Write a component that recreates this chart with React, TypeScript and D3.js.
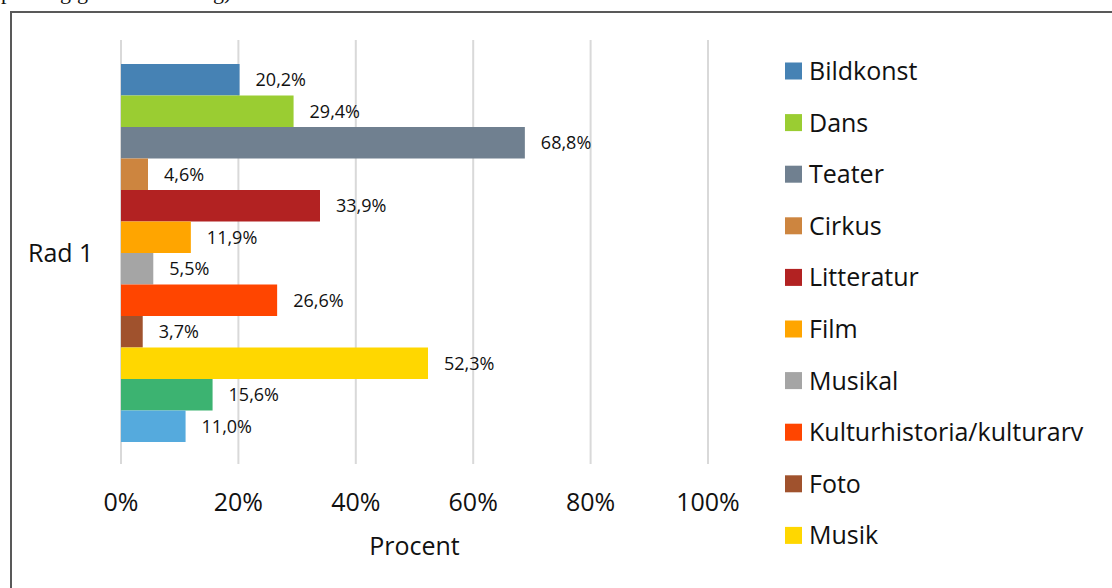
import React from "react";
import * as d3 from "d3";

const categories = ["Rad 1"];
const seriesNames = [
  "Bildkonst",
  "Dans",
  "Teater",
  "Cirkus",
  "Litteratur",
  "Film",
  "Musikal",
  "Kulturhistoria/kulturarv",
  "Foto",
  "Musik",
  "Slöjd",
  "Design",
];
const seriesValues = [20.2, 29.4, 68.8, 4.6, 33.9, 11.9, 5.5, 26.6, 3.7, 52.3, 15.6, 11.0];
const seriesColors = [
  "#4682B4",
  "#9ACD32",
  "#708090",
  "#CD853F",
  "#B22222",
  "#FFA500",
  "#A5A5A5",
  "#FF4500",
  "#A0522D",
  "#FFD700",
  "#3CB371",
  "#55AADD",
];
const xTicks = [0, 20, 40, 60, 80, 100];
const xAxisTitle = "Procent";

const FONT = "'Open Sans', 'Noto Sans', sans-serif";

export default function App() {
  const W = 1112;
  const H = 588;
  const x = d3.scaleLinear().domain([0, 100]).range([121, 708]);
  const y = d3.scaleBand<string>().domain(seriesNames).range([64, 442]).padding(0);
  const gridTop = 40;
  const gridBottom = 464;
  const fmt = (v: number) => d3.format(".1f")(v).replace(".", ",") + "%";

  const legendTop = 71;
  const legendStep = 51.6;
  const legendLimit = 560;
  const legendItems = seriesNames
    .map((n, i) => ({ n, i, cy: legendTop + i * legendStep }))
    .filter((d) => d.cy + 9 < legendLimit);

  return (
    <svg
      width={W}
      height={H}
      style={{ position: "absolute", left: 0, top: 0, background: "#fff" }}
    >
      {/* cropped document text above the chart */}
      <g fontFamily="'Liberation Serif', 'DejaVu Serif', serif" fontSize={22} fill="#111">
        <text x={1} y={-1}>p</text>
        <text x={60} y={-1}>g</text>
        <text x={77} y={-1}>g</text>
        <text x={213} y={-1}>g)</text>
      </g>
      {/* chart frame */}
      <path d={`M11,${H + 5} L11,12 L${W + 5},12`} fill="none" stroke="#595959" strokeWidth={2} />

      {/* gridlines */}
      {xTicks.map((t) => (
        <line
          key={t}
          x1={x(t)}
          x2={x(t)}
          y1={gridTop}
          y2={gridBottom}
          stroke="#D9D9D9"
          strokeWidth={2}
        />
      ))}

      {/* bars */}
      {seriesNames.map((n, i) => (
        <rect
          key={n}
          x={x(0)}
          y={y(n)!}
          width={x(seriesValues[i]) - x(0)}
          height={y.bandwidth()}
          fill={seriesColors[i]}
        />
      ))}

      {/* data labels */}
      {seriesNames.map((n, i) => (
        <text
          key={n}
          x={x(seriesValues[i]) + 16}
          y={y(n)! + y.bandwidth() / 2}
          dy="0.36em"
          fontFamily={FONT}
          fontSize={18}
          fill="#111"
        >
          {fmt(seriesValues[i])}
        </text>
      ))}

      {/* category label */}
      <text
        x={28}
        y={(64 + 442) / 2}
        dy="0.36em"
        fontFamily={FONT}
        fontSize={25}
        fill="#111"
      >
        {categories[0]}
      </text>

      {/* x tick labels */}
      {xTicks.map((t) => (
        <text
          key={t}
          x={x(t)}
          y={511}
          textAnchor="middle"
          fontFamily={FONT}
          fontSize={25}
          fill="#111"
        >
          {t + "%"}
        </text>
      ))}

      {/* axis title */}
      <text
        x={(x(0) + x(100)) / 2}
        y={555}
        textAnchor="middle"
        fontFamily={FONT}
        fontSize={25}
        fill="#111"
      >
        {xAxisTitle}
      </text>

      {/* legend */}
      {legendItems.map((d) => (
        <g key={d.n}>
          <rect x={785} y={d.cy - 8.5} width={17} height={17} fill={seriesColors[d.i]} />
          <text
            x={809}
            y={d.cy}
            dy="0.36em"
            fontFamily={FONT}
            fontSize={25}
            fill="#111"
          >
            {d.n}
          </text>
        </g>
      ))}
    </svg>
  );
}
